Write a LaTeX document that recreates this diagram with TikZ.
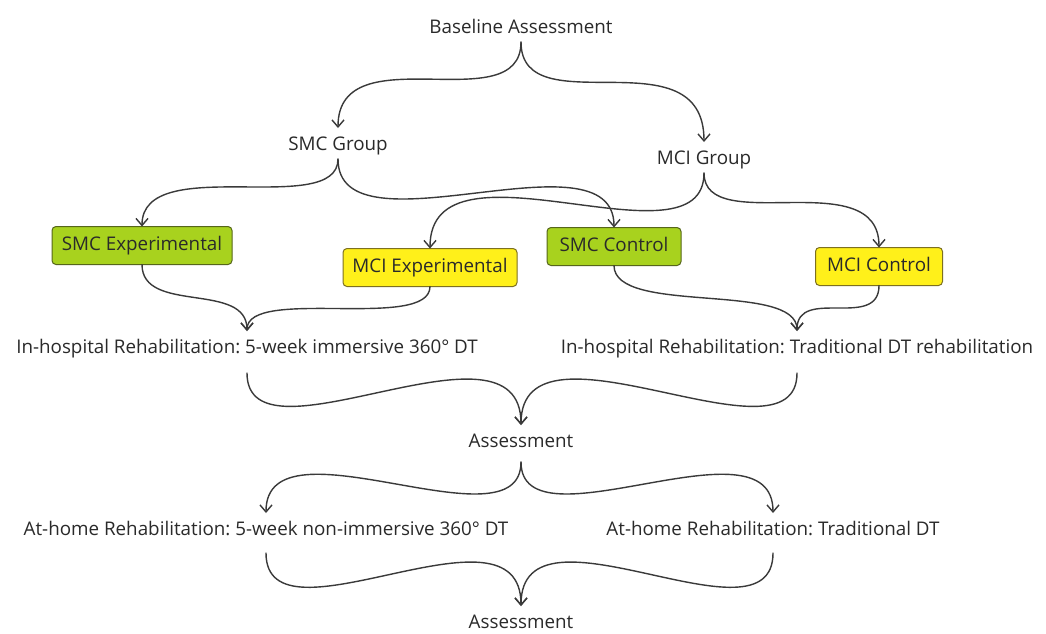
\documentclass[tikz,border=0pt]{standalone}
\usepackage{fontspec}
\setmainfont{Open Sans}
\usetikzlibrary{arrows.meta}
\definecolor{lnc}{HTML}{3A3A3A}
\definecolor{txc}{HTML}{2A2A2A}
\definecolor{smcfill}{HTML}{A8D21E}
\definecolor{smcdraw}{HTML}{56661A}
\definecolor{mcifill}{HTML}{FFF01A}
\definecolor{mcidraw}{HTML}{7D7020}
\frenchspacing
\begin{document}
\begin{tikzpicture}[x=1pt,y=-1pt,
  lbl/.style={anchor=base, text=txc, font=\fontsize{18.8}{22}\selectfont,
    inner xsep=2pt, inner ysep=0pt, text height=18pt, text depth=5pt, outer sep=4pt},
  grpbox/.style={rounded corners=4pt, line width=1pt, text=txc,
    font=\fontsize{18.8}{22}\selectfont, minimum height=38pt, inner xsep=9pt,
    text height=13.5pt, text depth=4pt, outer sep=0pt},
  smcbox/.style={grpbox, fill=smcfill, draw=smcdraw},
  mcibox/.style={grpbox, fill=mcifill, draw=mcidraw},
  conn/.style={draw=lnc, line width=1.4pt, line cap=round,
    -{Straight Barb[length=7pt,width=12pt]}}]
\useasboundingbox (0,0) rectangle (1046,633);
\fill[white] (0,0) rectangle (1046,633);

% text nodes
\node[lbl] (base) at (521,33) {Baseline Assessment};
\node[lbl] (smcg) at (338,150) {SMC Group};
\node[lbl] (mcig) at (704,164) {MCI Group};
\node[lbl] (inhl) at (247,353) {In-hospital Rehabilitation: 5-week immersive 360° DT};
\node[lbl] (inhr) at (797,353) {In-hospital Rehabilitation: Traditional DT rehabilitation};
\node[lbl] (ass1) at (521,447) {Assessment};
\node[lbl] (ahl) at (266,535) {At-home Rehabilitation: 5-week non-immersive 360° DT};
\node[lbl] (ahr) at (773,535) {At-home Rehabilitation: Traditional DT};
\node[lbl] (ass2) at (521,628) {Assessment};

% boxes
\node[smcbox, minimum width=180pt] (smce) at (142,245.5) {SMC Experimental};
\node[mcibox, minimum width=174pt] (mcie) at (430,267.5) {MCI Experimental};
\node[smcbox, minimum width=134pt] (smcc) at (614,246.5) {SMC Control};
\node[mcibox, minimum width=127pt] (mcic) at (879,266.5) {MCI Control};

% connectors
\draw[conn] (base.south) .. controls +(0,80) and +(0,-95) .. (smcg.north);
\draw[conn] (base.south) .. controls +(0,85) and +(0,-110) .. (mcig.north);
\draw[conn] (smcg.south) .. controls +(0,60) and +(0,-75) .. (smce.north);
\draw[conn] (smcg.south) .. controls +(0,100) and +(0,-100) .. (smcc.north);
\draw[conn] (mcig.south) .. controls +(0,100) and +(0,-120) .. (mcie.north);
\draw[conn] (mcig.south) .. controls +(0,65) and +(0,-85) .. (mcic.north);

\draw[conn] (smce.south) .. controls +(0,50) and +(0,-50) .. (inhl.north);
\draw[conn] (mcie.south) .. controls +(0,45) and +(0,-45) .. (inhl.north);
\draw[conn] (smcc.south) .. controls +(0,50) and +(0,-50) .. (inhr.north);
\draw[conn] (mcic.south) .. controls +(0,45) and +(0,-45) .. (inhr.north);

\draw[conn] ([yshift=-11pt]inhl.south) .. controls +(0,100) and +(0,-120) .. (ass1.north);
\draw[conn] ([yshift=-11pt]inhr.south) .. controls +(0,100) and +(0,-120) .. (ass1.north);

\draw[conn] ([yshift=-6pt]ass1.south) .. controls +(0,90) and +(0,-100) .. (ahl.north);
\draw[conn] ([yshift=-6pt]ass1.south) .. controls +(0,90) and +(0,-100) .. (ahr.north);

\draw[conn] ([yshift=-9pt]ahl.south) .. controls +(0,100) and +(0,-115) .. (ass2.north);
\draw[conn] ([yshift=-9pt]ahr.south) .. controls +(0,100) and +(0,-115) .. (ass2.north);
\end{tikzpicture}
\end{document}
